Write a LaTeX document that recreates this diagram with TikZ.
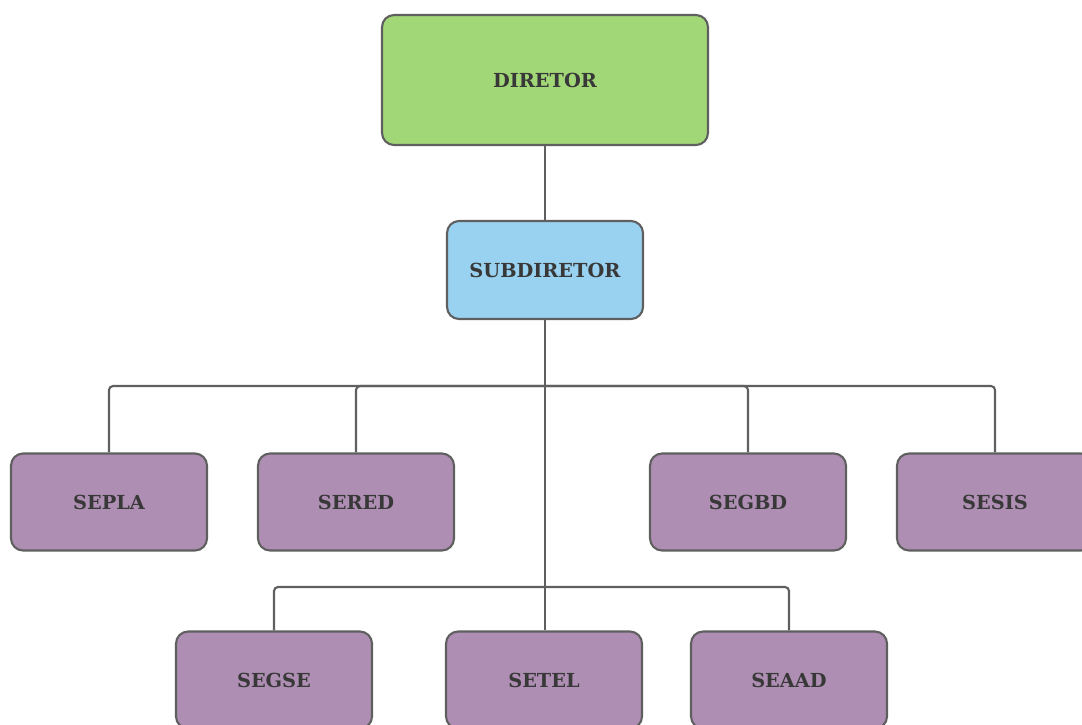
\documentclass[tikz,border=0pt]{standalone}
\usepackage{fontspec}
\setmainfont{DejaVu Serif}
\definecolor{verde}{HTML}{A2D777}
\definecolor{azul}{HTML}{99D2F0}
\definecolor{roxo}{HTML}{AE8EB3}
\definecolor{borda}{HTML}{5F5F5F}
\definecolor{texto}{HTML}{383838}
\begin{document}
\begin{tikzpicture}[x=0.02cm, y=-0.02cm,
    caixa/.style={draw=borda, line width=1.2pt, rounded corners=0.24cm, text=texto, font=\bfseries\fontsize{11}{13}\selectfont},
    setor/.style={caixa, fill=roxo, minimum width=3.92cm, minimum height=1.94cm},
    ligacao/.style={draw=borda, line width=1.2pt, rounded corners=0.08cm}]
  \clip (0,0) rectangle (1082,724);
  \useasboundingbox (0,0) rectangle (1082,724);

  % topo
  \node[caixa, fill=verde, minimum width=6.52cm, minimum height=2.6cm] (diretor) at (545,80) {DIRETOR};
  \node[caixa, fill=azul, minimum width=3.92cm, minimum height=1.96cm] (subdiretor) at (545,270) {SUBDIRETOR};

  % primeira linha
  \node[setor] (sepla) at (109,502) {SEPLA};
  \node[setor] (sered) at (356,502) {SERED};
  \node[setor] (segbd) at (748,502) {SEGBD};
  \node[setor] (sesis) at (995,502) {SESIS};

  % segunda linha
  \node[setor] (segse) at (274,680) {SEGSE};
  \node[setor] (setel) at (544,680) {SETEL};
  \node[setor] (seaad) at (789,680) {SEAAD};

  \coordinate (barra1) at (545,386);
  \coordinate (barra2) at (545,587);

  \draw[ligacao] (diretor) -- (subdiretor);
  \draw[ligacao] (subdiretor.south) -- (setel.north -| subdiretor.south);
  \draw[ligacao] (sepla.north) |- (barra1) -| (sesis.north);
  \draw[ligacao] (sered.north) |- (barra1);
  \draw[ligacao] (segbd.north) |- (barra1);
  \draw[ligacao] (segse.north) |- (barra2) -| (seaad.north);
\end{tikzpicture}
\end{document}
